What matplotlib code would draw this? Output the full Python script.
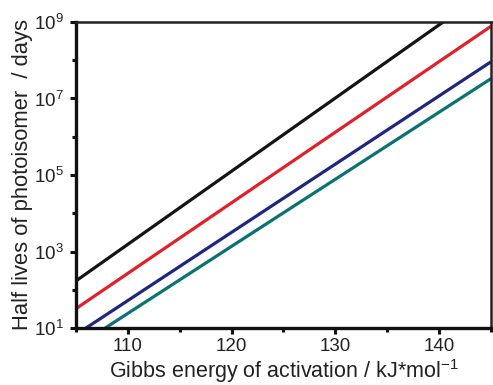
import matplotlib
matplotlib.use("Agg")
import matplotlib.pyplot as plt
from matplotlib.ticker import FixedLocator, FuncFormatter
import math

plt.rcParams['font.family'] = ['Liberation Sans', 'DejaVu Sans']
plt.rcParams['mathtext.fontset'] = 'custom'
plt.rcParams['mathtext.rm'] = 'Liberation Sans'
plt.rcParams['mathtext.it'] = 'Liberation Sans'
plt.rcParams['mathtext.default'] = 'regular'

# Data: straight lines (log scale) given by end points
gibbs = [105, 145]
series_names = ["0 °C", "10 °C", "20 °C", "25 °C"]
half_life_black = [170, 7.6e9]
half_life_red = [32, 7.7e8]
half_life_navy = [6.7, 9.1e7]
half_life_teal = [3.2, 3.3e7]
colors = ["#141414", "#e0202a", "#1f2680", "#0b7272"]

x_major = [110, 120, 130, 140]
x_minor = [105, 115, 125, 135, 145]
y_major = [1e1, 1e3, 1e5, 1e7, 1e9]
y_minor = [1e2, 1e4, 1e6, 1e8]

fig = plt.figure(figsize=(4.93, 3.85), dpi=100)
ax = fig.add_axes([0.154, 0.148, 0.842, 0.795])

for ys, c in zip([half_life_black, half_life_red, half_life_navy, half_life_teal], colors):
    ax.plot(gibbs, ys, color=c, lw=2.3, solid_capstyle='butt')

ax.set_yscale('log')
ax.set_xlim(105, 145)
ax.set_ylim(1e1, 1e9)

ax.xaxis.set_major_locator(FixedLocator(x_major))
ax.xaxis.set_minor_locator(FixedLocator(x_minor))
ax.yaxis.set_major_locator(FixedLocator(y_major))
ax.yaxis.set_minor_locator(FixedLocator(y_minor))
ax.yaxis.set_minor_formatter(FuncFormatter(lambda v, p: ""))
ax.yaxis.set_major_formatter(FuncFormatter(lambda v, p: r"$10^{%d}$" % round(math.log10(v))))

ax.tick_params(axis='both', which='major', direction='out', length=4.5, width=2.2,
               labelsize=13.5, color='#111111', labelcolor='#222222')
ax.tick_params(axis='x', which='major', pad=3)
ax.tick_params(axis='y', which='major', pad=4)
ax.tick_params(axis='both', which='minor', direction='out', length=3, width=2.2, color='#111111')

for side in ['left', 'bottom']:
    ax.spines[side].set_linewidth(2.4)
    ax.spines[side].set_color('#111111')
for side in ['top', 'right']:
    ax.spines[side].set_linewidth(1.8)
    ax.spines[side].set_color('#222222')

ax.set_xlabel("Gibbs energy of activation / kJ*mol$^{-1}$", fontsize=15.5, labelpad=1, color='#222222')
ax.set_ylabel("Half lives of photoisomer  / days", fontsize=15.8, labelpad=1, color='#222222')

fig.savefig("out.png", dpi=100)
